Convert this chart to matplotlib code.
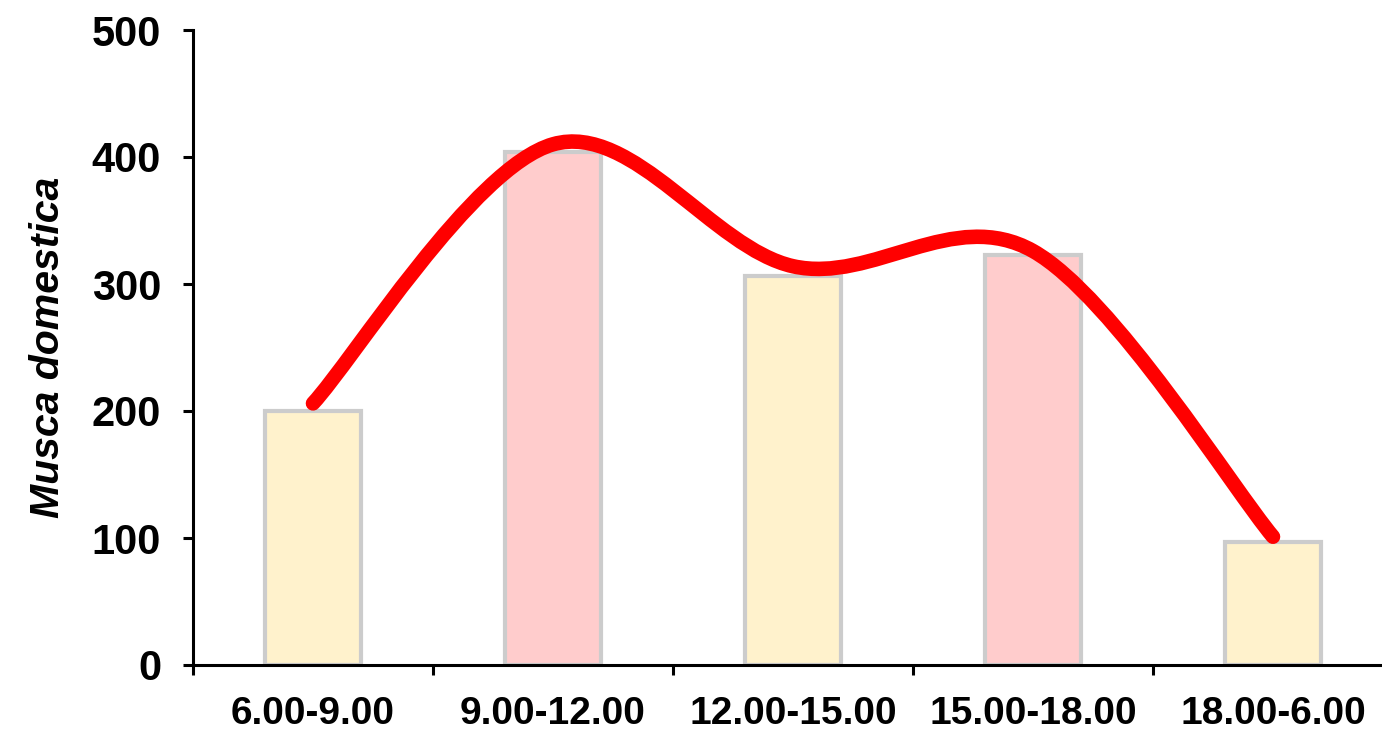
import numpy as np
import matplotlib.pyplot as plt
from matplotlib.path import Path
from matplotlib.patches import PathPatch

# data
periods = ['6.00-9.00', '9.00-12.00', '12.00-15.00', '15.00-18.00', '18.00-6.00']
bar_values = [200, 404, 306, 323, 97]
line_values = [206, 410, 314, 326, 101]
bar_colors = ['#FFF2CC', '#FFCCCC', '#FFF2CC', '#FFCCCC', '#FFF2CC']

plt.rcParams['font.family'] = ['Liberation Sans', 'DejaVu Sans']
plt.rcParams['font.weight'] = 'bold'

fig = plt.figure(figsize=(13.82, 7.31), dpi=100)
ax = fig.add_axes([193 / 1382, 66 / 731, 1200 / 1382, 635 / 731])

x = np.arange(1, len(periods) + 1)
ax.bar(x, bar_values, width=0.4, color=bar_colors, edgecolor='#CCCCCC',
       linewidth=3, zorder=2)

# smooth line like Excel (Catmull-Rom as cubic bezier)
pts = np.column_stack([x, line_values]).astype(float)
ext = np.vstack([pts[0], pts, pts[-1]])
verts = [tuple(pts[0])]
codes = [Path.MOVETO]
for i in range(len(pts) - 1):
    p0, p1, p2, p3 = ext[i], ext[i + 1], ext[i + 2], ext[i + 3]
    c1 = p1 + (p2 - p0) / 6
    c2 = p2 - (p3 - p1) / 6
    verts += [tuple(c1), tuple(c2), tuple(p2)]
    codes += [Path.CURVE4] * 3
ax.add_patch(PathPatch(Path(verts, codes), facecolor='none', edgecolor='#FF0000',
                       linewidth=10.5, capstyle='round', zorder=3))

ax.set_xlim(0.5, 5.5)
ax.set_ylim(0, 500)
ax.set_yticks(range(0, 501, 100))
ax.set_xticks(x)
ax.set_xticklabels(periods)
ax.set_xticks(np.arange(0.5, 5.6, 1), minor=True)

for s in ['top', 'right']:
    ax.spines[s].set_visible(False)
for s in ['left', 'bottom']:
    ax.spines[s].set_linewidth(2.2)

ax.tick_params(axis='y', direction='out', length=7, width=2.2, pad=16, labelsize=30)
ax.tick_params(axis='x', which='major', length=0, pad=22, labelsize=28)
ax.tick_params(axis='x', which='minor', direction='out', length=7, width=2.2)
for lab in ax.get_xticklabels() + ax.get_yticklabels():
    lab.set_fontweight('bold')

ax.set_ylabel('Musca domestica', fontsize=29.5, fontstyle='italic',
              fontweight='bold', labelpad=18)

fig.savefig('out.png', dpi=100)
